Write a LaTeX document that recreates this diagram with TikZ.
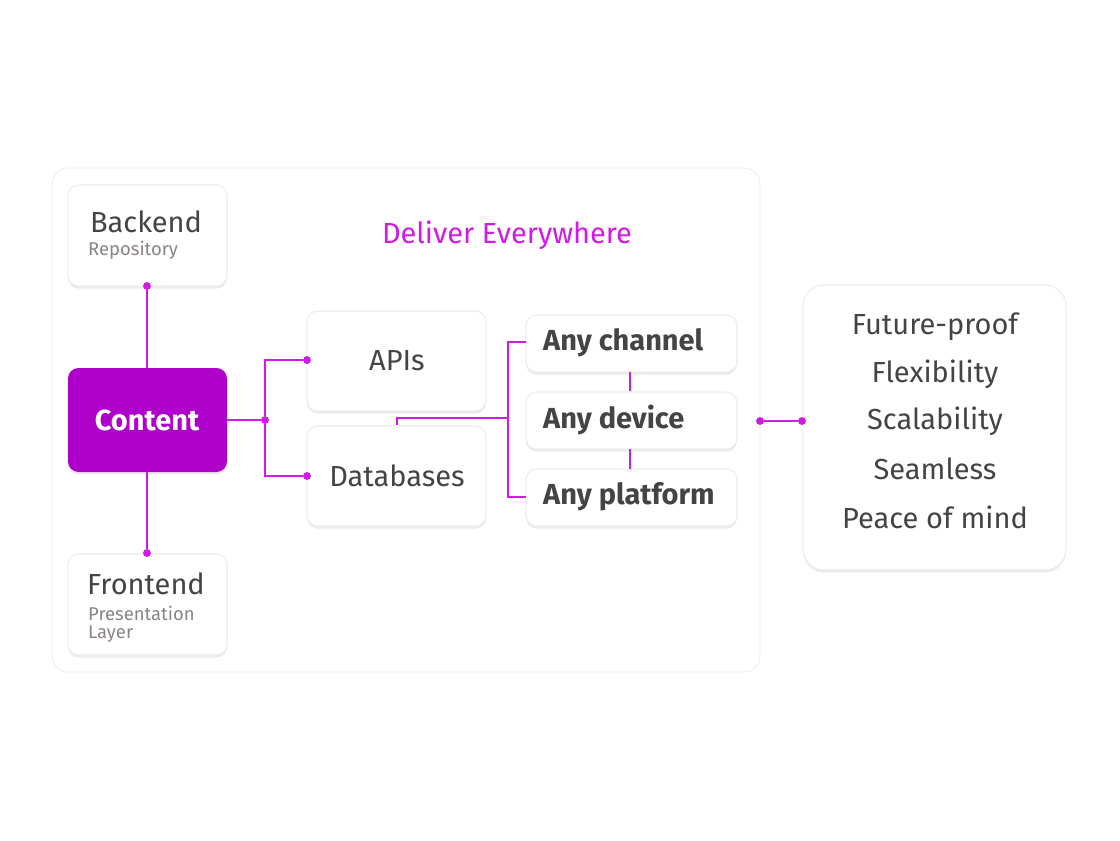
\documentclass[tikz,border=0pt]{standalone}
\usepackage{fontspec}
\setmainfont{Fira Sans}
\usetikzlibrary{shadows}
\definecolor{magent}{HTML}{B000CC}
\definecolor{linkc}{HTML}{D21AE6}
\definecolor{txt}{HTML}{444444}
\definecolor{subtxt}{HTML}{8A8484}
\tikzset{
  card/.style={draw=black!7, fill=white, rounded corners=6pt, line width=0.6pt,
    drop shadow={shadow xshift=0pt, shadow yshift=-1.5pt, opacity=0.15}},
  link/.style={draw=linkc, line width=0.8pt},
  dot/.style={circle, fill=linkc, inner sep=0pt, minimum size=4.5pt},
  big/.style={text=txt, font=\fontsize{16.5}{19}\selectfont},
  small/.style={text=subtxt, font=\fontsize{10.5}{11}\selectfont, align=left}
}
\begin{document}
\begin{tikzpicture}[x=0.02cm, y=-0.02cm]
  \useasboundingbox (0,0) rectangle (1120,840);
  % outer panel
  \draw[draw=black!8, fill=white, rounded corners=9pt] (52,168) rectangle (760,672);
  \node[text=linkc, font=\fontsize{16.5}{19}\selectfont] (title) at (507,235) {Deliver Everywhere};
  % left column
  \path[card] (68,185) rectangle (227,286);
  \node[big] (back) at (146,222) {Backend};
  \node[small, anchor=west] (repo) at (82,250) {Repository};
  \path[card, draw=none, fill=magent] (68,368) rectangle (227,472);
  \node[text=white, font=\bfseries\fontsize{16.5}{19}\selectfont] (content) at (147,420) {Content};
  \path[card] (68,554) rectangle (227,655);
  \node[big] (front) at (146,584) {Frontend};
  \node[small, anchor=north west] (pres) at (82,600) {Presentation\\[-1pt]Layer};
  % middle
  \path[card] (307,311) rectangle (486,411);
  \node[big] (apis) at (397,361) {APIs};
  \path[card] (307,426) rectangle (486,526);
  \node[big] (db) at (397,476) {Databases};
  \foreach \y/\t/\n in {343/Any channel/chan, 420/Any device/dev, 497/Any platform/plat}{
    \path[card] (526,\y-28) rectangle (737,\y+29);
    \node[big, font=\bfseries\fontsize{16.5}{19}\selectfont, anchor=west] (\n) at (537,\y) {\t};
  }
  % right box
  \path[card, rounded corners=12pt] (803,285) rectangle (1066,570);
  \foreach \y/\t in {327/Future-proof, 374/Flexibility, 421/Scalability, 469/Seamless, 517/Peace of mind}
    \node[big] at (935,\y) {\t};
  % connectors
  \node[dot] (d1) at (147,286) {};
  \node[dot] (d2) at (147,553) {};
  \node[dot] (d3) at (265,420) {};
  \node[dot] (d4) at (307,360) {};
  \node[dot] (d5) at (307,476) {};
  \node[dot] (d6) at (760,421) {};
  \node[dot] (d7) at (802,421) {};
  \coordinate (tick) at (397,418);
  \coordinate (fork) at (508,418);
  \draw[link] (d1) -- (147,368);
  \draw[link] (147,472) -- (d2);
  \draw[link] (227,420) -- (d3);
  \draw[link] (d4) -| (d3) |- (d5);
  \draw[link] (397,425) -- (tick) -- (fork);
  \draw[link] (526,342) -| (fork) |- (526,497);
  \draw[link] (630,372) -- (630,391);
  \draw[link] (630,449) -- (630,469);
  \draw[link] (d6) -- (d7);
\end{tikzpicture}
\end{document}
